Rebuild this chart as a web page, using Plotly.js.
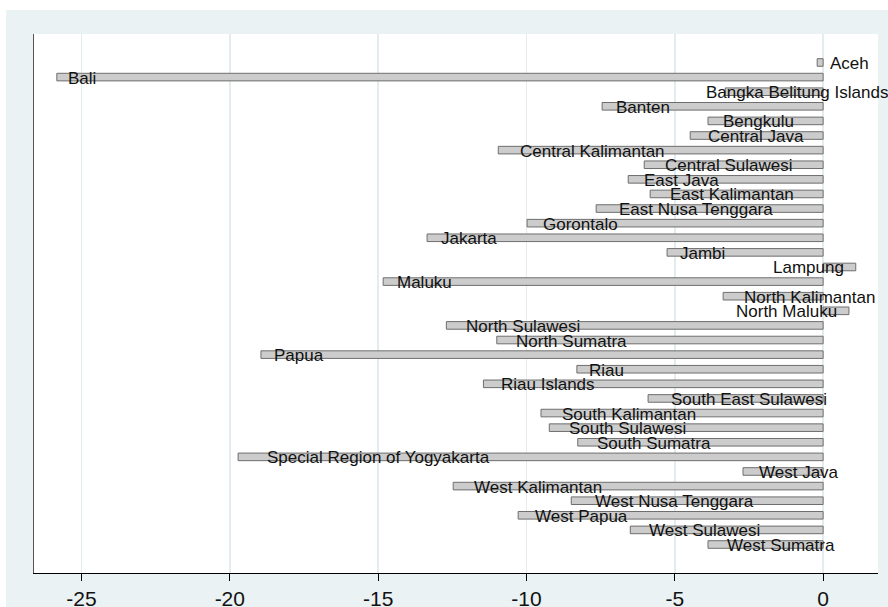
<!DOCTYPE html>
<html>
<head>
<meta charset="utf-8">
<script src="https://cdn.plot.ly/plotly-3.0.1.min.js"></script>
<style>
  html, body { margin:0; padding:0; background:#fff; overflow:hidden; }
  #chart { position:absolute; left:6px; top:10px; width:882px; height:640px; }
</style>
</head>
<body>
<div id="chart"></div>
<script>
// provinces, top to bottom
const provinces = ['Aceh','Bali','Bangka Belitung Islands','Banten','Bengkulu','Central Java',
  'Central Kalimantan','Central Sulawesi','East Java','East Kalimantan','East Nusa Tenggara',
  'Gorontalo','Jakarta','Jambi','Lampung','Maluku','North Kalimantan','North Maluku',
  'North Sulawesi','North Sumatra','Papua','Riau','Riau Islands','South East Sulawesi',
  'South Kalimantan','South Sulawesi','South Sumatra','Special Region of Yogyakarta',
  'West Java','West Kalimantan','West Nusa Tenggara','West Papua','West Sulawesi','West Sumatra'];
const change = [-0.2, -25.83, -3.3, -7.45, -3.88, -4.48,
  -10.95, -6.03, -6.57, -5.83, -7.65,
  -9.98, -13.35, -5.26, 1.1, -14.83, -3.37, 0.87,
  -12.7, -11.0, -18.95, -8.3, -11.45, -5.9,
  -9.51, -9.23, -8.27, -19.72,
  -2.7, -12.47, -8.49, -10.28, -6.5, -3.88];
const xTicks = [-25, -20, -15, -10, -5, 0];

const FONT = 'Liberation Sans, Arial, sans-serif';
const xr = [-26.6, 1.85];
const M = { l:28, r:10, t:24, b:77 };
const plotW = 882 - M.l - M.r;

// label widths, used to mimic Stata's label offsets
const ctx = document.createElement('canvas').getContext('2d');
ctx.font = "17px 'Liberation Sans'";
const px = v => 6 + M.l + (v - xr[0]) / (xr[1] - xr[0]) * plotW;

const annotations = provinces.map((p, i) => {
    const v = change[i], w = ctx.measureText(p).width;
    if (v >= 0) {
        return { x: v, y: p, xref:'x', yref:'y', text: p, showarrow:false,
                 xanchor:'right', yanchor:'middle', xshift:-10, yshift:-1,
                 font:{ family:FONT, size:17, color:'#111' } };
    }
    let shift = 7 + 0.09 * w;
    const over = px(v) + shift + w - 886;
    if (over > 0) shift -= over;
    return { x: v, y: p, xref:'x', yref:'y', text: p, showarrow:false,
             xanchor:'left', yanchor:'middle', xshift:shift, yshift:-1,
             font:{ family:FONT, size:17, color:'#111' } };
});

const trace = {
    type:'bar', orientation:'h', y: provinces, x: change, width:0.52,
    marker:{ color:'#cccccc', line:{ color:'#6e6e6e', width:1 } },
    hoverinfo:'x+y', cliponaxis:false
};

const layout = {
    width:882, height:640, margin:M,
    paper_bgcolor:'#eaf2f3', plot_bgcolor:'#ffffff',
    showlegend:false, bargap:0.45,
    font:{ family:FONT, color:'#111' },
    xaxis:{ range:xr, tickvals:xTicks, ticktext:xTicks.map(String),
            showgrid:true, gridcolor:'#e3edf0', gridwidth:1.5, zeroline:false,
            showline:true, linecolor:'#000', linewidth:1,
            ticks:'outside', ticklen:7, tickcolor:'#000', tickwidth:1,
            tickfont:{ family:FONT, size:21, color:'#111' }, ticklabelstandoff:0 },
    yaxis:{ type:'category', range:[provinces.length - 1 + 1.95, -1.95],
            showticklabels:false, showgrid:false, zeroline:false, ticks:'',
            showline:true, linecolor:'#555', linewidth:1 },
    annotations
};

Plotly.newPlot('chart', [trace], layout, { displayModeBar:false, staticPlot:true });
</script>
</body>
</html>
